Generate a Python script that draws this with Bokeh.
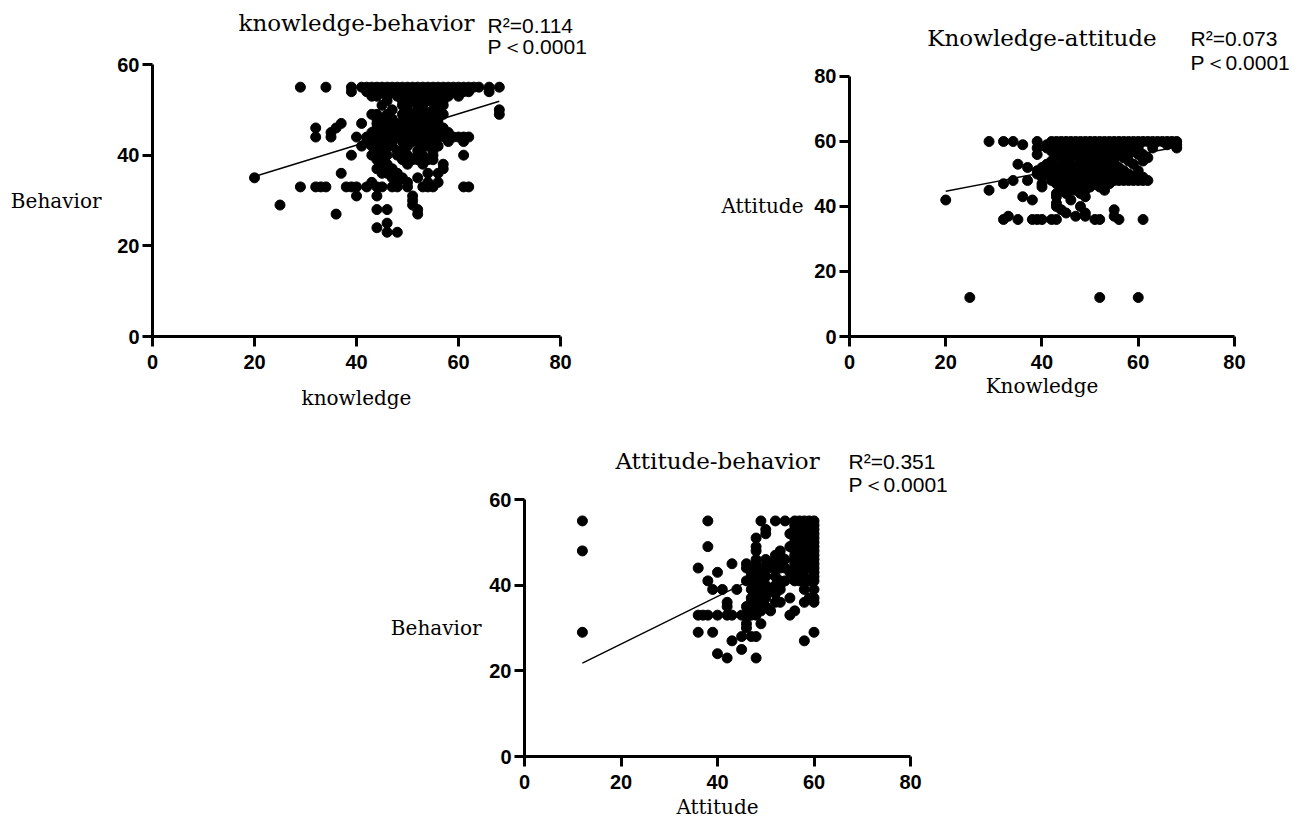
from bokeh.plotting import figure
from bokeh.models import Range1d, FixedTicker, Label, Spacer, LinearAxis
from bokeh.layouts import row, column
from bokeh.embed import file_html
from bokeh.resources import INLINE

# ---------------- data ----------------
# knowledge-behavior: rows of (behavior score, knowledge scores)
kb_rows = [
    (55, [29, 34, 39, 41, 42, 43, 44, 45, 46, 47, 48, 49, 50, 51, 52, 53, 54, 55, 56, 57, 58, 59, 60, 61, 62, 63, 64, 66, 68]),
    (54, [39, 42, 43, 45, 47, 48, 49, 50, 51, 52, 53, 54, 55, 56, 57, 59, 60, 61, 62, 66]),
    (53, [43, 44, 46, 48, 50, 51, 52, 53, 54, 55, 56, 58, 60]),
    (52, [46, 49, 51, 52, 54, 55, 57]),
    (51, [45, 49, 50, 52, 53, 56, 57]),
    (50, [47, 50, 52, 53, 55, 56, 68]),
    (49, [43, 44, 46, 49, 51, 52, 54, 55, 57, 68]),
    (48, [44, 45, 47, 50, 51, 52, 53, 55, 56]),
    (47, [37, 41, 44, 46, 48, 49, 51, 52, 53, 54, 55, 56]),
    (46, [32, 36, 44, 45, 47, 50, 51, 53, 54, 57]),
    (45, [35, 43, 44, 46, 48, 49, 50, 52, 53, 55, 56, 57, 58]),
    (44, [32, 35, 40, 42, 43, 44, 45, 46, 47, 48, 50, 51, 52, 53, 54, 55, 56, 57, 58, 59, 60, 61, 62]),
    (43, [42, 44, 45, 47, 49, 51, 52, 55, 58, 61]),
    (42, [41, 43, 44, 46, 47, 50, 53, 54, 56]),
    (41, [44, 45, 48, 49, 52, 55]),
    (40, [39, 43, 44, 46, 48, 50, 52, 53, 55, 61]),
    (39, [44, 45, 49, 51, 52, 54, 55]),
    (38, [45, 46, 50, 53, 57]),
    (37, [44, 46, 47, 57]),
    (36, [37, 45, 46, 48, 54, 56]),
    (35, [20, 47, 49, 52]),
    (34, [43, 48, 50, 54, 56]),
    (33, [29, 32, 33, 34, 38, 39, 40, 42, 44, 45, 47, 48, 50, 53, 54, 55, 61, 62]),
    (31, [40, 44, 51]),
    (30, [51]),
    (29, [25, 51]),
    (28, [44, 46, 52]),
    (27, [36, 52]),
    (25, [46]),
    (24, [44]),
    (23, [46, 48]),
]
kb_fit_x = [20, 68]
kb_fit_y = [35.3, 51.9]

# Knowledge-attitude: rows of (attitude score, knowledge scores)
ka_rows = [
    (60, [29, 32, 34, 39, 42, 43, 44, 45, 46, 47, 48, 49, 50, 51, 52, 53, 54, 55, 56, 57, 58, 59, 60, 61, 62, 63, 64, 65, 66, 67, 68]),
    (59, [36, 41, 42, 43, 44, 46, 48, 50, 52, 54, 56, 58, 66, 68]),
    (58, [39, 41, 42, 43, 44, 45, 46, 47, 48, 49, 50, 51, 52, 53, 54, 55, 56, 57, 58, 59, 60, 63, 68]),
    (57, [42, 44, 46, 47, 49, 51, 53, 55, 57, 59]),
    (56, [39, 43, 45, 47, 48, 50, 52, 54, 55, 56, 58, 60, 61]),
    (55, [44, 46, 49, 51, 53, 57, 62]),
    (54, [42, 45, 48, 50, 52, 53, 55, 58, 61]),
    (53, [35, 41, 44, 46, 49, 51, 54, 59]),
    (52, [37, 40, 43, 45, 47, 50, 52, 56]),
    (51, [39, 42, 44, 46, 48, 53, 55, 57, 60]),
    (50, [39, 41, 43, 45, 47, 49, 51, 52, 54, 58]),
    (49, [40, 42, 44, 46, 48, 50, 53, 56, 59, 61]),
    (48, [34, 37, 42, 43, 44, 45, 46, 47, 48, 49, 50, 51, 52, 53, 54, 55, 56, 57, 58, 59, 60, 61, 62]),
    (47, [32, 40, 43, 45, 47, 49, 51, 54]),
    (46, [40, 44, 46, 48, 50, 52]),
    (45, [29, 44, 46, 47, 49, 53]),
    (44, [43, 45, 48]),
    (43, [36, 43, 49]),
    (42, [20, 38, 46]),
    (41, [43]),
    (40, [43, 48]),
    (39, [44, 55]),
    (38, [45, 49]),
    (37, [33, 47, 49, 55]),
    (36, [32, 35, 38, 39, 40, 42, 43, 51, 52, 56, 61]),
    (12, [25, 52, 60]),
]
ka_fit_x = [20, 68]
ka_fit_y = [44.7, 58.3]

# Attitude-behavior: rows of (behavior score, attitude scores)
ab_rows = [
    (55, [12, 38, 49, 52, 54, 56, 57, 58, 59, 60]),
    (54, [56, 57, 58, 59, 60]),
    (53, [50, 56, 58, 59, 60]),
    (52, [50, 55, 56, 57, 58, 60]),
    (51, [48, 56, 57, 59, 60]),
    (50, [56, 58, 59, 60]),
    (49, [38, 48, 55, 56, 57, 58, 59, 60]),
    (48, [12, 48, 53, 56, 57, 58, 60]),
    (47, [52, 53, 56, 57, 58, 59, 60]),
    (46, [48, 50, 52, 54, 56, 57, 58, 59, 60]),
    (45, [43, 46, 48, 51, 53, 56, 57, 58, 60]),
    (44, [36, 46, 47, 48, 49, 50, 51, 52, 53, 54, 56, 58, 59, 60]),
    (43, [40, 47, 48, 49, 55, 56, 57, 60]),
    (42, [47, 48, 49, 50, 52, 56, 58, 60]),
    (41, [38, 46, 47, 48, 49, 53, 54, 56, 57, 58, 59, 60]),
    (40, [48, 49, 50, 52, 53]),
    (39, [39, 41, 44, 47, 48, 49, 51, 53, 58, 60]),
    (38, [48, 49, 50, 52]),
    (37, [47, 49, 50, 55, 59, 60]),
    (36, [42, 47, 48, 49, 52, 53, 58, 60]),
    (35, [42, 46, 48, 49, 50]),
    (34, [47, 48, 49, 51, 56]),
    (33, [36, 37, 38, 40, 42, 43, 45, 46, 47, 48, 55]),
    (31, [46, 49]),
    (30, [46]),
    (29, [12, 36, 39, 60]),
    (28, [45, 47, 48]),
    (27, [43, 58]),
    (25, [45]),
    (24, [40]),
    (23, [42, 48]),
]
ab_fit_x = [12, 60]
ab_fit_y = [21.8, 48.5]

x_ticks = [0, 20, 40, 60, 80]
y_ticks_60 = [0, 20, 40, 60]
y_ticks_80 = [0, 20, 40, 60, 80]

SERIF = "DejaVu Serif"
SANS = "Liberation Sans"


def expand(rows):
    xs, ys = [], []
    for yv, xv in rows:
        for x in xv:
            xs.append(x)
            ys.append(yv)
    return xs, ys


def name_axis(loc, text, standoff):
    # an extra, line-less axis whose single tick label is the axis title,
    # centred on the middle of the bounded axis
    ax = LinearAxis(ticker=FixedTicker(ticks=[loc]),
                    major_label_overrides={loc: text},
                    axis_line_color=None, major_tick_line_color=None,
                    minor_tick_line_color=None, major_tick_out=0, major_tick_in=0,
                    major_label_standoff=standoff,
                    major_label_text_font=SERIF,
                    major_label_text_font_style="normal",
                    major_label_text_font_size="20px",
                    major_label_text_color="black")
    return ax


def make_fig(width, height, left, bottom, xmax_view, ymax_view, ymax, yticks,
             xlab, ylab, xlab_standoff, ylab_standoff):
    # the frame reaches the top and right edges of the canvas so that the
    # titles and statistics can be drawn inside it; the axes are bounded.
    p = figure(width=width, height=height,
               x_range=Range1d(0, xmax_view), y_range=Range1d(0, ymax_view),
               output_backend="svg", toolbar_location=None,
               min_border_left=left, min_border_right=0,
               min_border_top=0, min_border_bottom=bottom)
    p.outline_line_color = None
    p.xgrid.visible = False
    p.ygrid.visible = False
    p.background_fill_color = "white"
    p.border_fill_color = "white"
    p.xaxis.ticker = FixedTicker(ticks=x_ticks)
    p.yaxis.ticker = FixedTicker(ticks=yticks)
    p.xaxis.bounds = (0, 80)
    p.yaxis.bounds = (0, ymax)
    for ax in (p.xaxis, p.yaxis):
        ax.axis_line_width = 3
        ax.axis_line_color = "black"
        ax.major_tick_line_width = 3
        ax.major_tick_line_color = "black"
        ax.major_tick_out = 10
        ax.major_tick_in = 0
        ax.minor_tick_line_color = None
        ax.major_label_text_font = SANS
        ax.major_label_text_font_style = "bold"
        ax.major_label_text_font_size = "20px"
        ax.major_label_text_color = "black"
    p.xaxis.major_label_standoff = 8
    p.yaxis.major_label_standoff = 3
    p.add_layout(name_axis(40, xlab, xlab_standoff), "below")
    p.add_layout(name_axis(ymax / 2, ylab, ylab_standoff), "left")
    return p


def add_text(p, x, y, text, font, size, align):
    p.add_layout(Label(x=x, y=y, text=text, text_font=font, text_font_size=size,
                       text_align=align, text_baseline="middle", text_color="black"))


def panel(p, rows, fx, fy, title, r2, tx, ty, rx, ry, py_):
    xs, ys = expand(rows)
    p.scatter(xs, ys, size=10, fill_color="black", line_color="black", marker="circle")
    p.line(fx, fy, line_color="black", line_width=1.4)
    add_text(p, tx, ty, title, SERIF, "23px", "center")
    add_text(p, rx, ry, "R²=" + r2, SANS, "21px", "left")
    add_text(p, rx, py_, "P＜0.0001", SANS, "21px", "left")


# fig1: canvas x 0..620, y 0..416 ; frame left 152, bottom 336 ; 5.1 px/x unit, 4.533 px/y unit
f1 = make_fig(620, 416, 152, 80, 91.76, 74.12, 60, y_ticks_60,
              "knowledge", "Behavior", 14, 13)
panel(f1, kb_rows, kb_fit_x, kb_fit_y, "knowledge-behavior", "0.114",
      40, 69.26, 65.7, 68.6, 63.97)

# fig2: canvas x 620..1295, y 0..416 ; frame left 849, bottom 336 ; 4.8125 px/x, 3.25 px/y
f2 = make_fig(675, 416, 229, 80, 92.68, 103.38, 80, y_ticks_80,
              "Knowledge", "Attitude", 2, 8)
panel(f2, ka_rows, ka_fit_x, ka_fit_y, "Knowledge-attitude", "0.073",
      40, 91.7, 70.86, 91.7, 84.3)

# fig3: canvas x 380..1000, y 416..821 ; frame left 524, bottom 756 ; 4.825 px/x, 4.283 px/y
f3 = make_fig(620, 405, 144, 65, 98.65, 79.38, 60, y_ticks_60,
              "Attitude", "Behavior", 3, 5)
panel(f3, ab_rows, ab_fit_x, ab_fit_y, "Attitude-behavior", "0.351",
      40, 69.1, 67.15, 68.9, 63.5)

layout = column(row(f1, f2), row(Spacer(width=380, height=405), f3))

open("out.html", "w").write(file_html(layout, INLINE))
